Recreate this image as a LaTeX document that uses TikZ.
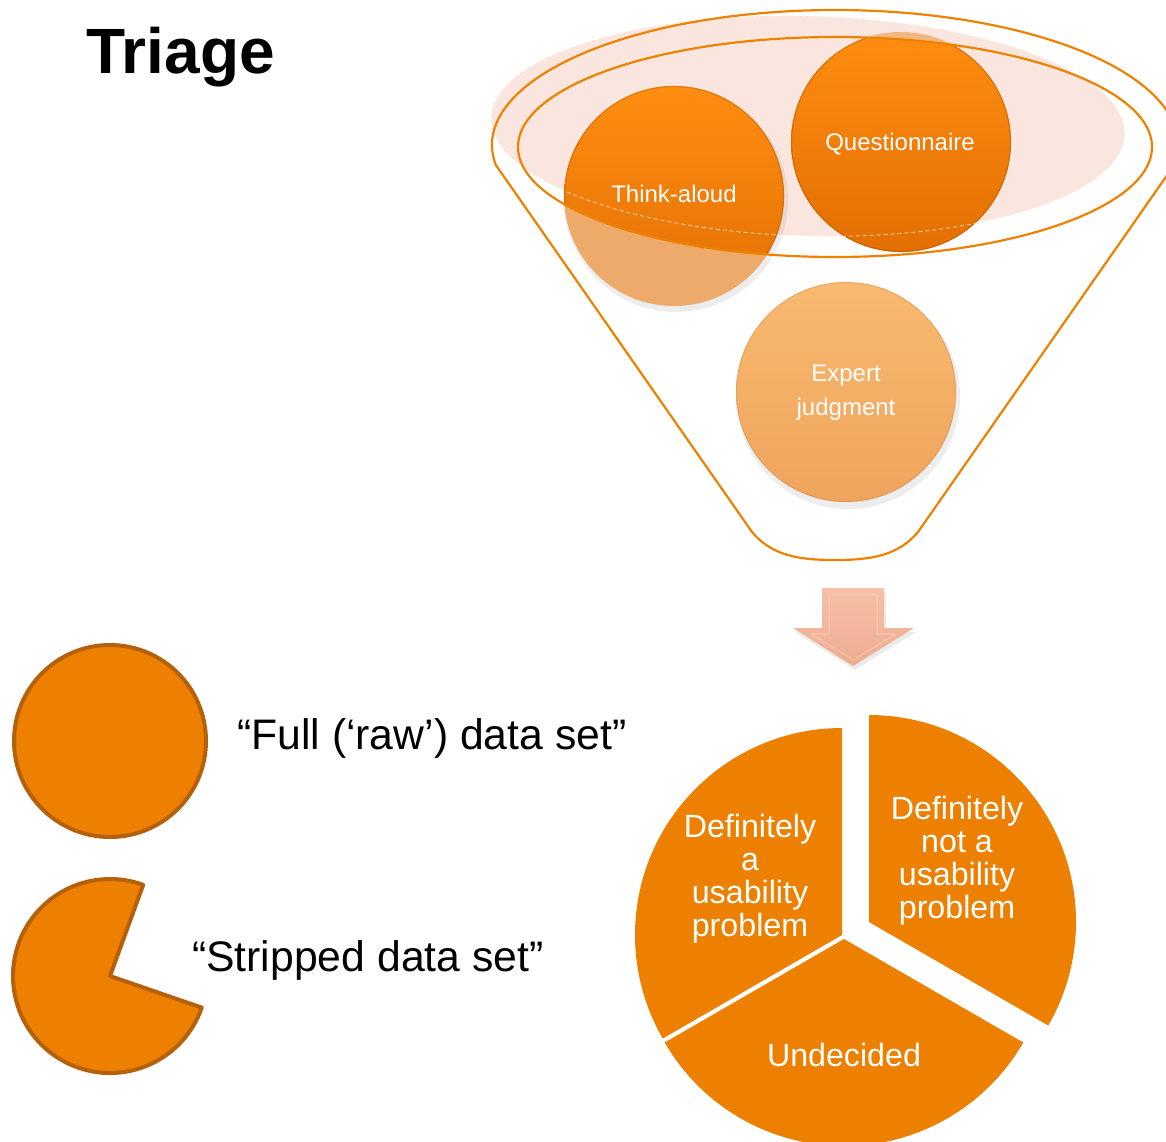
\documentclass[tikz,border=0pt]{standalone}
\usepackage{fontspec}
\setmainfont{Liberation Sans}

% palette
\definecolor{rimorange}{HTML}{EE8200}
\definecolor{pieorange}{HTML}{ED8000}
\definecolor{blobtop}{HTML}{FF8D12}
\definecolor{blobbottom}{HTML}{E26F00}
\definecolor{blobpale}{HTML}{EEAA6A}
\definecolor{expertA}{HTML}{F9B970}
\definecolor{expertB}{HTML}{EFA45C}
\definecolor{blushpink}{HTML}{F9E2D9}
\definecolor{peachA}{HTML}{F6C0A8}
\definecolor{peachB}{HTML}{EEAC90}
\definecolor{edgebrown}{HTML}{B5600A}

\begin{document}
\begin{tikzpicture}[x=1pt,y=-1pt,
  rim/.style={draw=rimorange, line width=2.2pt, line join=round},
  token/.style={fill=pieorange, draw=edgebrown, line width=4pt, line join=round},
  slice/.style={fill=pieorange},
  blobtext/.style={text=white, inner sep=0pt, font=\fontsize{24}{34}\selectfont, align=center},
  pietext/.style={text=white, inner sep=0pt, font=\fontsize{32.2}{33}\selectfont, align=center},
  caption/.style={text=black, inner sep=0pt, anchor=base west, font=\fontsize{42.7}{48}\selectfont}]

\useasboundingbox (0,0) rectangle (1166,1141);
\clip (0,0) rectangle (1166,1141);

% title
\node[anchor=base west, inner sep=0pt, font=\fontsize{64}{70}\selectfont\bfseries] (title) at (86,73) {Triage};

% ---------- funnel ----------
% pale surface of the funnel mouth
\fill[blushpink, opacity=.85, rotate around={-1.5:(808,126)}] (808,126) ellipse[x radius=317, y radius=110];

% soft shadows under the discs
\fill[black, opacity=.07] (676,200) circle[radius=112];
\fill[black, opacity=.07] (848,397) circle[radius=112];

% lower, faded parts of the two upper discs
\fill[blobpale] (674,196) circle[radius=110];
\fill[blobpale!85!white] (901,142) circle[radius=110];

% the parts of the discs that lie inside the rim are deep orange
\begin{scope}
  \clip (835,147) ellipse[x radius=317, y radius=110];
  \shade[top color=blobtop, bottom color=blobbottom] (674,196) circle[radius=110];
  \shade[top color=blobtop, bottom color=blobbottom] (901,142) circle[radius=110];
  \draw[blobbottom!70!black, opacity=.35, line width=1.2pt] (901,142) circle[radius=109.5];
  \draw[blobbottom!70!black, opacity=.3, line width=1.2pt] (674,196) circle[radius=109.5];
\end{scope}

% third disc, lower in the funnel
\shade[top color=expertA, bottom color=expertB] (846,392) circle[radius=110];
\draw[expertB!80!black, opacity=.3, line width=1pt] (846,392) circle[radius=109.5];

% faint dashed edge of the surface
\draw[white, opacity=.7, line width=.8pt, dash pattern=on 4pt off 3pt, rotate around={-1.5:(808,126)}]
  (808,126) ellipse[x radius=317, y radius=110];

% inner rim and funnel body
\draw[rim] (835,147) ellipse[x radius=317, y radius=110];
\draw[rim] (835,145) ++(171.5:343 and 135)
  arc[start angle=171.5, end angle=368.5, x radius=343, y radius=135]
  -- (918,532) .. controls (898,556) and (870,560) .. (835,560)
  .. controls (800,560) and (772,556) .. (752,532) -- cycle;

\node[blobtext, anchor=base] (think) at (674,202) {Think-aloud};
\node[blobtext, anchor=base] (quest) at (900,150) {Questionnaire};
\node[blobtext, anchor=north] (expert) at (846,365) {Expert\\judgment};

% ---------- down arrow ----------
\fill[black, opacity=.08] (824,592) -- (886,592) -- (886,632) -- (916,632) -- (855,670) -- (795,632) -- (824,632) -- cycle;
\shade[top color=peachA, bottom color=peachB]
  (822,588) -- (884,588) -- (884,628) -- (914,628) -- (853,666) -- (793,628) -- (822,628) -- cycle;
\draw[white, opacity=.18, line width=1.5pt, line join=round]
  (829,594) -- (877,594) -- (877,634) -- (896,634) -- (853,660) -- (811,634) -- (829,634) -- cycle;

% ---------- legend tokens ----------
\path[token] (110,741) circle[radius=96];
\path[token] (110,976) -- ++(19:97) arc[start angle=19, end angle=290, radius=97] -- cycle;

\node[caption] (fullset) at (237,749) {“Full (‘raw’) data set”};
\node[caption] (stripset) at (192,971) {“Stripped data set”};

% ---------- exploded pie ----------
\path[slice] (842,935) -- ++(-90:207) arc[start angle=-90, end angle=-210, radius=207] -- cycle;
\path[slice] (869,922) -- ++(-90:207) arc[start angle=-90, end angle=30, radius=207] -- cycle;
\path[slice] (844,939) -- ++(150:207) arc[start angle=150, end angle=30, radius=207] -- cycle;

\node[pietext, anchor=north] (isproblem) at (750,814) {Definitely\\a\\usability\\problem};
\node[pietext, anchor=north] (notproblem) at (957,796) {Definitely\\not a\\usability\\problem};
\node[pietext, anchor=base] (undecided) at (844,1066) {Undecided};

\end{tikzpicture}
\end{document}
